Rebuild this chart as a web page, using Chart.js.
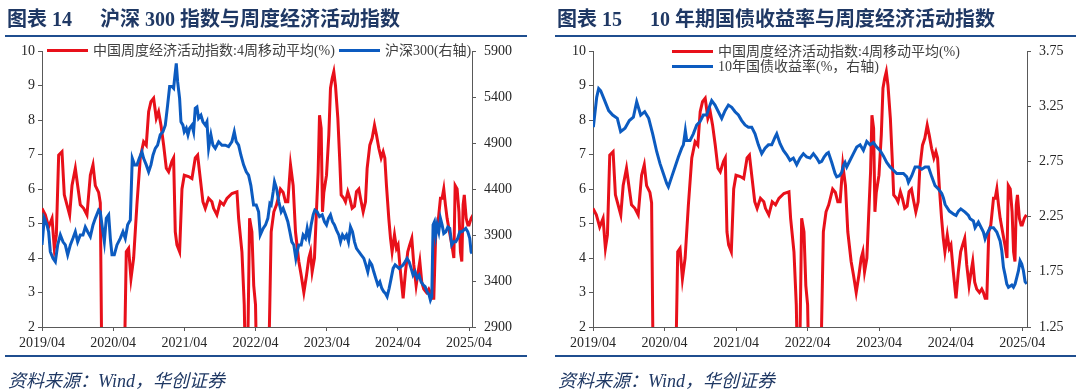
<!DOCTYPE html>
<html>
<head>
<meta charset="utf-8">
<script src="https://cdn.jsdelivr.net/npm/chart.js@4.4.1/dist/chart.umd.min.js"></script>
<style>
  body { margin: 0; background: #fff; }
  #wrap { position: relative; width: 1080px; height: 390px; overflow: hidden; background: #fff; }
  canvas { position: absolute; top: 0; }
  .title { position: absolute; top: 3px; line-height: 20px; font: bold 20px "Liberation Serif", "Noto Sans CJK SC"; color: #1F3864; white-space: nowrap; }
  .rule { position: absolute; height: 2px; background: #1F4E8F; }
  .src { position: absolute; top: 366px; line-height: 20px; font: italic 18px "Liberation Serif", "Noto Sans CJK SC"; color: #1F3864; white-space: nowrap; }
  .legend { position: absolute; font: 14px "Liberation Serif", "Noto Sans CJK SC"; color: #404040; white-space: nowrap; line-height: 15px; display: flex; align-items: center; }
  .sw { display: inline-block; width: 41px; height: 3px; margin-right: 5px; }
</style>
</head>
<body>
<div id="wrap">
  <canvas id="c1" width="540" height="390" style="left:0"></canvas>
  <canvas id="c2" width="540" height="390" style="left:540px"></canvas>

  <div class="title" style="left:7px">图表 14</div>
  <div class="title" style="left:100px">沪深 300 指数与周度经济活动指数</div>
  <div class="rule" style="left:5px;width:522px;top:35px"></div>
  <div class="rule" style="left:5px;width:522px;top:355px"></div>
  <div class="src" style="left:8px">资料来源：Wind，华创证券</div>

  <div class="title" style="left:557px">图表 15</div>
  <div class="title" style="left:650px">10 年期国债收益率与周度经济活动指数</div>
  <div class="rule" style="left:555px;width:521px;top:35px"></div>
  <div class="rule" style="left:555px;width:521px;top:355px"></div>
  <div class="src" style="left:558px">资料来源：Wind，华创证券</div>

  <div class="legend" style="left:47px;top:43px">
    <span class="sw" style="background:#E8101A"></span><span>中国周度经济活动指数:4周移动平均(%)</span>
    <span class="sw" style="background:#0C5BC0;margin-left:4px"></span><span>沪深300(右轴)</span>
  </div>
  <div class="legend" style="left:672px;top:44px">
    <span class="sw" style="background:#E8101A"></span><span>中国周度经济活动指数:4周移动平均(%)</span>
  </div>
  <div class="legend" style="left:672px;top:59px">
    <span class="sw" style="background:#0C5BC0"></span><span>10年国债收益率(%，右轴)</span>
  </div>
</div>
<script>
// x positions are months since 2019/04
const tickMonths = [0, 12, 24, 36, 48, 60, 72];
const tickLabels = ['2019/04', '2020/04', '2021/04', '2022/04', '2023/04', '2024/04', '2025/04'];
const leftTicks = [2, 3, 4, 5, 6, 7, 8, 9, 10];
const csiTicks = [2900, 3400, 3900, 4400, 4900, 5400, 5900];
const yieldTicks = [1.25, 1.75, 2.25, 2.75, 3.25, 3.75];

// 中国周度经济活动指数:4周移动平均(%)
const actM = [0,0.56,1.12,1.69,2.08,2.42,2.81,3.37,3.76,4.21,
  4.66,5.06,5.62,6.01,6.46,7.02,7.58,8.15,8.6,8.99,
  9.55,9.83,10.3,13.5,14.21,14.6,15.0,15.45,16.0,16.57,
  17.13,17.58,17.98,18.37,18.82,19.27,19.66,20.06,20.51,20.96,
  21.35,21.9,22.19,22.47,22.75,23.2,23.6,23.99,24.72,25.28,
  25.84,26.24,26.69,27.13,27.53,28.09,28.65,28.93,29.49,30.06,
  30.62,31.18,32.02,32.87,33.15,33.71,34.1,34.5,35.0,35.39,
  35.7,36.0,36.5,37.9,38.64,39.09,39.54,40.2,40.66,41.06,
  41.45,41.9,42.35,42.74,43.3,43.7,44.15,44.6,44.99,45.27,
  45.55,45.94,46.22,46.56,46.79,47.07,47.29,47.52,47.97,48.36,
  48.64,48.92,49.2,49.48,49.88,50.21,50.44,50.89,51.17,51.56,
  51.9,52.29,52.69,53.02,53.42,53.7,54.15,54.54,54.82,55.27,
  55.66,56.06,56.39,56.79,57.18,57.52,57.8,58.08,58.47,58.76,
  59.03,59.43,59.76,60.04,60.44,60.89,61.28,61.67,62.0,62.35,
  62.69,63.08,63.42,63.7,64.03,64.37,64.82,65.21,65.49,65.78,
  66.06,66.39,66.73,67.18,67.46,67.74,68.02,68.3,68.7,69.1,
  69.44,69.66,69.99,70.3,70.55,70.78,71.0,71.2,71.52,71.8,
  72.0,72.35,72.7];
const actV = [5.44,5.25,4.9,5.15,4.28,4.67,6.98,7.08,5.83,5.54,
  5.25,6.1,6.6,6.1,5.54,5.44,5.25,6.4,6.7,6.1,
  5.9,5.6,-3,-3,4.18,4.28,3.4,4.0,5.54,6.9,
  7.37,7.27,8.24,8.53,8.63,8.05,8.24,7.85,7.27,6.6,
  6.5,6.8,6.9,4.76,4.38,4.18,6.0,6.4,6.36,6.3,
  6.9,6.98,6.3,5.63,5.44,5.73,5.63,5.44,5.25,5.63,
  5.54,5.73,5.87,5.92,5.15,4.18,2.64,-1,5.15,4.76,
  3.2,2.64,-2,-2,4.76,5.34,5.54,6.0,5.9,5.63,
  5.63,6.7,6.1,4.76,3.9,3.5,3.0,3.5,4.0,4.18,
  3.6,4.0,5.15,6.5,8.14,7.76,5.34,5.9,6.4,7.57,
  8.92,9.2,9.4,9.0,8.05,6.8,5.83,5.73,5.63,5.92,
  5.73,5.44,5.5,5.92,6.0,5.73,5.34,5.63,6.6,7.27,
  7.47,7.85,7.57,7.18,6.9,7.08,6.9,6.1,5.15,4.57,
  4.18,4.67,4.28,4.38,3.6,2.83,3.6,4.18,4.38,4.57,
  3.8,3.2,3.6,3.9,3.3,3.1,3.0,3.1,3.0,2.83,
  2.83,4.76,4.96,5.73,5.73,6.0,5.54,5.15,4.76,4.38,
  4.0,6.1,6.0,5.34,4.18,3.9,5.54,5.83,5.15,4.96,
  4.96,5.15,5.25];

// 沪深300
const csiM = [0,0.39,0.84,1.12,1.4,1.85,2.25,2.64,3.09,3.54,
  3.93,4.33,4.78,5.22,5.62,6.01,6.46,6.91,7.3,7.7,
  8.15,8.6,8.99,9.55,9.83,10.11,10.51,10.84,11.24,11.52,
  11.8,12.19,12.64,13.2,13.65,14.04,14.44,14.89,15.22,15.62,
  16.01,16.4,16.85,17.13,17.58,17.98,18.37,18.71,19.1,19.49,
  19.94,20.39,20.79,21.18,21.52,21.91,22.19,22.42,22.64,22.87,
  23.2,23.43,23.76,23.99,24.33,24.61,24.89,25.28,25.56,25.84,
  26.12,26.4,26.8,27.13,27.53,27.81,28.09,28.48,28.82,29.21,
  29.78,30.34,30.9,31.46,32.02,32.42,32.75,33.15,33.54,33.99,
  34.44,34.83,35.22,35.67,36.12,36.52,36.8,
  37.29,37.69,38.08,38.42,38.64,38.98,39.2,39.54,39.93,40.33,
  40.66,41.06,41.45,41.79,42.12,42.46,42.8,43.02,43.3,43.7,
  44.03,44.43,44.71,45.04,45.38,45.72,46.0,46.39,46.79,47.24,
  47.63,47.97,48.3,48.64,48.98,49.31,49.65,50.04,50.33,50.66,
  51.0,51.34,51.67,52.01,52.35,52.69,53.02,53.42,53.81,54.26,
  54.6,54.93,55.27,55.61,55.94,56.28,56.62,56.96,57.29,57.63,
  57.91,58.19,58.53,58.87,59.2,59.54,59.88,60.21,60.55,60.89,
  61.22,61.56,61.9,62.24,62.57,62.91,63.25,63.58,63.92,64.26,
  64.6,64.93,65.27,65.49,65.72,65.94,66.17,66.39,66.62,66.9,
  67.18,67.46,67.74,68.08,68.42,68.75,69.09,69.43,69.76,70.1,
  70.44,70.78,71.11,71.45,71.79,72.12,72.35,72.5];
const csiV = [3792,4081,4010,3935,3718,3646,3609,3792,3901,3826,
  3792,3684,3792,3864,3935,3826,3901,3901,3987,3935,
  3882,4010,4081,4171,4152,4010,3826,4081,4119,3864,
  3684,3684,3792,3864,3935,3864,4010,4062,4734,4662,
  4662,4734,4805,4734,4662,4587,4662,4767,4842,4876,
  4989,5022,5094,5311,5514,5514,5495,5637,5765,5566,
  5386,5131,5094,5022,5060,4989,5060,5094,5022,5278,
  5292,5169,5202,5131,5094,5131,4842,4989,4876,4842,
  4914,4876,4876,4861,4914,5022,4914,4876,4767,4662,
  4587,4550,4437,4227,4227,4152,3901,
  3972,4010,4081,4242,4227,4370,4479,4407,4261,4152,
  4190,4119,4044,3935,3826,3792,3646,3718,3792,3792,
  3901,3864,3972,3864,4010,4119,4171,4152,4100,4119,
  4044,4010,4081,4119,4044,4010,3954,3901,3826,3901,
  3864,3901,3826,3987,3935,3826,3755,3718,3684,3646,
  3575,3500,3609,3575,3500,3429,3358,3391,3320,3282,
  3264,3230,3320,3429,3537,3575,3556,3537,3556,3575,
  3609,3646,3609,3537,3462,3500,3429,3462,3391,3358,
  3339,3282,3249,3192,3230,4010,4044,3901,4010,3935,
  4081,4010,3916,3935,3987,3972,3792,3826,3826,3864,
  3935,3935,3954,3972,3935,3864,3718,3699];

// 10年国债收益率(%)
const yldM = [0.06,0.62,0.95,1.29,1.96,2.63,3.3,4.08,4.64,5.37,
  6.1,6.77,7.33,8.0,8.67,9.34,10.01,10.68,11.24,11.8,
  12.36,12.64,13.2,13.76,14.32,14.88,15.16,15.49,15.72,16.28,
  16.83,17.39,17.95,18.51,19.07,19.63,19.91,20.47,21.03,21.59,
  22.15,22.71,23.27,23.83,24.39,24.94,25.5,26.06,26.62,27.18,
  27.74,28.3,28.86,29.42,29.98,30.54,30.82,31.38,31.94,32.49,
  33.05,33.61,34.17,34.73,35.29,35.85,36.41,36.97,37.53,37.97,
  38.36,38.76,39.2,39.49,40.05,40.6,40.88,41.33,41.72,42.0,
  42.28,42.56,43.12,43.68,44.24,44.8,45.36,45.92,46.47,47.03,
  47.59,48.15,48.71,49.27,49.83,50.39,50.95,51.51,52.07,52.63,
  52.91,53.47,54.03,54.59,55.15,55.71,56.27,56.83,57.38,57.94,
  58.5,58.78,59.06,59.78,60.57,60.9,61.3,61.69,62.41,62.98,
  63.26,63.81,64.09,64.65,65.21,65.49,65.77,66.05,66.61,67.17,
  67.73,68.29,68.57,68.85,69.13,69.41,69.69,70.25,70.53,70.81,
  71.09,71.37,71.64,71.92,72.2,72.48,72.76];
const yldV = [3.06,3.33,3.41,3.39,3.30,3.21,3.17,3.14,3.02,3.05,
  3.12,3.15,3.29,3.17,3.20,3.14,3.0,2.84,2.73,2.64,
  2.55,2.52,2.61,2.70,2.79,2.87,2.90,3.03,2.94,2.94,
  3.0,3.08,3.11,3.17,3.17,3.26,3.30,3.26,3.20,3.14,
  3.21,3.26,3.24,3.20,3.17,3.12,3.08,3.06,3.06,3.0,
  2.90,2.82,2.87,2.90,2.90,2.97,3.0,2.91,2.85,2.81,
  2.76,2.78,2.72,2.78,2.82,2.79,2.78,2.82,2.78,2.74,
  2.75,2.79,2.82,2.83,2.74,2.64,2.61,2.62,2.65,2.71,
  2.74,2.70,2.76,2.82,2.88,2.90,2.85,2.93,2.90,2.92,
  2.88,2.85,2.80,2.74,2.70,2.67,2.64,2.64,2.64,2.61,
  2.56,2.62,2.70,2.70,2.68,2.70,2.70,2.61,2.53,2.50,
  2.46,2.42,2.36,2.30,2.27,2.26,2.30,2.32,2.29,2.26,
  2.23,2.21,2.15,2.20,2.14,2.11,2.05,2.09,2.15,2.15,
  2.11,2.03,1.94,1.79,1.72,1.64,1.61,1.63,1.61,1.64,
  1.70,1.76,1.85,1.82,1.76,1.66,1.64];

const RED = '#E8101A';
const BLUE = '#0C5BC0';
const AXIS = '#595959';
const tickFont = { family: '"Liberation Serif", serif', size: 14 };

function pts(ms, vs) {
  return ms.map((m, i) => ({ x: m, y: vs[i] }));
}

function lineSet(label, data, color, axis, order) {
  return {
    label: label, data: data, yAxisID: axis,
    borderColor: color, backgroundColor: color,
    borderWidth: 3, pointRadius: 0, tension: 0, order: order
  };
}

function valueAxis(pos, min, max, tickList, width, pad, fmt) {
  return {
    type: 'linear', position: pos, min: min, max: max,
    afterBuildTicks: s => { s.ticks = tickList.map(v => ({ value: v })); },
    afterFit: s => { s.width = width; },
    ticks: { font: tickFont, color: '#262626', padding: pad, autoSkip: false,
      callback: v => fmt ? v.toFixed(2) : String(v) },
    grid: { drawOnChartArea: false, drawTicks: true, tickLength: 4, color: AXIS },
    border: { color: AXIS, width: 1 }
  };
}

function makeChart(id, datasets, xMax, yLeftW, rightAxis) {
  return new Chart(document.getElementById(id), {
    type: 'line',
    data: { datasets: datasets },
    options: {
      responsive: false,
      animation: false,
      layout: { padding: { top: 51, left: 0, right: 0, bottom: 0 } },
      plugins: { legend: { display: false }, tooltip: { enabled: false } },
      scales: {
        x: {
          type: 'linear', min: 0, max: xMax,
          afterBuildTicks: s => { s.ticks = tickMonths.map(v => ({ value: v })); },
          afterFit: s => { s.height = 390 - 327; },
          ticks: { font: tickFont, color: '#262626', padding: 4, maxRotation: 0, autoSkip: false,
            callback: v => tickLabels[tickMonths.indexOf(v)] },
          grid: { drawOnChartArea: false, drawTicks: true, tickLength: 4, color: AXIS },
          border: { color: AXIS, width: 1 }
        },
        y: valueAxis('left', 2, 10, leftTicks, yLeftW, 3, false),
        y1: rightAxis
      }
    }
  });
}

makeChart('c1', [
  lineSet('沪深300(右轴)', pts(csiM, csiV), BLUE, 'y1', 0),
  lineSet('中国周度经济活动指数:4周移动平均(%)', pts(actM, actV), RED, 'y', 1)
], 72.5, 42, valueAxis('right', 2900, 5900, csiTicks, 68, 8, false));

makeChart('c2', [
  lineSet('10年国债收益率(%，右轴)', pts(yldM, yldV), BLUE, 'y1', 0),
  lineSet('中国周度经济活动指数:4周移动平均(%)', pts(actM, actV), RED, 'y', 1)
], 72.8, 53, valueAxis('right', 1.25, 3.75, yieldTicks, 53, 8, true));
</script>
</body>
</html>
